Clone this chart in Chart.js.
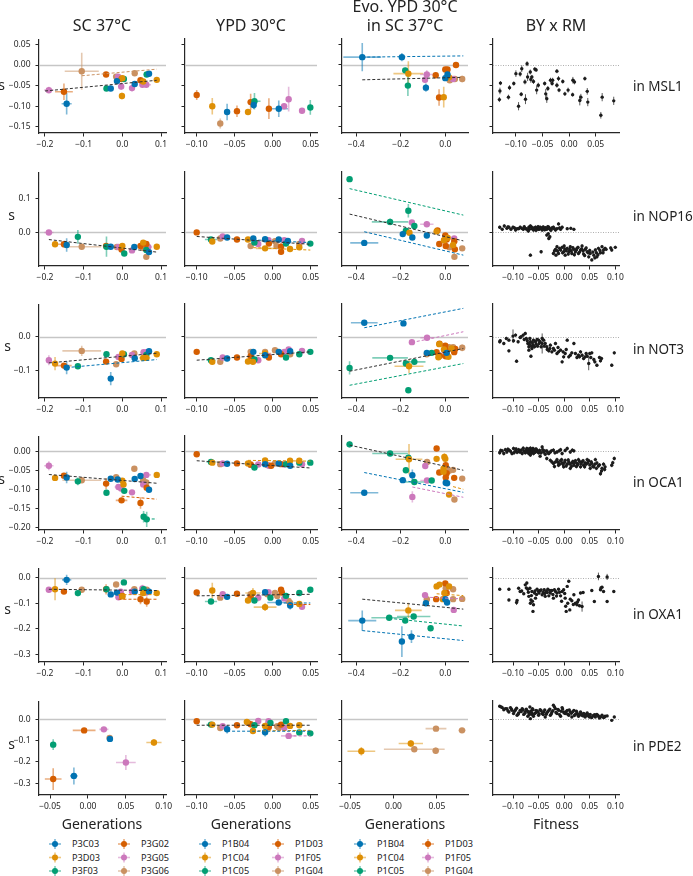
<!DOCTYPE html>
<html>
<head>
<meta charset="utf-8">
<script src="https://cdn.jsdelivr.net/npm/chart.js@4.4.0/dist/chart.umd.min.js"></script>
<style>
body { margin: 0; background: #fff; width: 693px; height: 876px; position: relative; overflow: hidden; font-family: 'Noto Sans', sans-serif; color: #222; }
canvas { position: absolute; }
.t { position: absolute; white-space: nowrap; line-height: 1; }
</style>
</head>
<body>
<svg id="leg" width="693" height="876" style="position:absolute;left:0;top:0"></svg>
<script>
// strains (legend order) and colours
const scStrains = ['P3C03', 'P3D03', 'P3F03', 'P3G02', 'P3G05', 'P3G06'];
const ypdStrains = ['P1B04', 'P1C04', 'P1C05', 'P1D03', 'P1F05', 'P1G04'];
const palette = ['#0173b2', '#de8f05', '#029e73', '#d55e00', '#cc78bc', '#ca9161'];

const columnTitles = ['SC 37°C', 'YPD 30°C', 'Evo. YPD 30°C\nin SC 37°C', 'BY x RM'];
const rowLabels = ['in MSL1', 'in NOP16', 'in NOT3', 'in OCA1', 'in OXA1', 'in PDE2'];
const xLabels = ['Generations', 'Generations', 'Generations', 'Fitness'];

// tick labels
const yTicks = [[0.05, 0, -0.05, -0.1, -0.15], [0.1, 0], [0, -0.1], [0, -0.05, -0.1, -0.15, -0.2], [0, -0.1, -0.2, -0.3], [0, -0.1, -0.2, -0.3]];
const xTicksSC = [-0.2, -0.1, 0, 0.1];
const xTicksSCpde = [-0.05, 0, 0.05, 0.1];
const xTicksYPD = [-0.1, -0.05, 0, 0.05];
const xTicksEvo = [-0.4, -0.2, 0];
const xTicksEvoPde = [-0.05, 0, 0.05];
const xTicksBYmsl = [-0.1, -0.05, 0, 0.05];
const xTicksBY = [-0.1, -0.05, 0, 0.05, 0.1];

// points: [strain, generations, s, xerr, yerr]; fits: [strain (-1 = all), x0, y0, x1, y1]
const mslSC = [[4,-0.190,-0.061,0.012,0.008],[3,-0.151,-0.065,0.023,0.020],[0,-0.144,-0.094,0.013,0.026],[5,-0.105,-0.015,0.044,0.045],[3,-0.042,-0.023,0.006,0.005],[5,-0.016,-0.028,0.006,0.005],[4,-0.011,-0.028,0.006,0.005],[1,0.000,-0.032,0.005,0.006],[2,0.004,-0.034,0.005,0.005],[3,-0.002,-0.034,0.005,0.006],[0,-0.014,-0.039,0.005,0.005],[2,-0.041,-0.057,0.006,0.006],[0,-0.030,-0.057,0.005,0.006],[4,-0.003,-0.052,0.005,0.008],[1,-0.001,-0.075,0.004,0.008],[0,0.032,-0.046,0.005,0.005],[5,0.032,-0.020,0.006,0.005],[4,0.025,-0.056,0.005,0.008],[3,0.047,-0.037,0.006,0.006],[1,0.054,-0.040,0.006,0.006],[4,0.052,-0.048,0.008,0.006],[4,0.062,-0.048,0.012,0.006],[2,0.063,-0.023,0.008,0.005],[0,0.069,-0.021,0.005,0.004],[1,0.089,-0.036,0.004,0.006]];
const mslSCfit = [[-1,-0.200,-0.063,0.089,-0.037],[5,-0.105,-0.026,0.089,-0.010]];
const mslYPD = [[3,-0.100,-0.073,0.002,0.012],[1,-0.0795,-0.100,0.002,0.020],[5,-0.069,-0.142,0.002,0.012],[0,-0.060,-0.114,0.002,0.020],[3,-0.047,-0.112,0.004,0.014],[1,-0.0325,-0.114,0.004,0.006],[3,-0.029,-0.090,0.004,0.020],[2,-0.024,-0.088,0.008,0.020],[0,-0.025,-0.097,0.002,0.010],[3,-0.005,-0.106,0.004,0.025],[0,0.008,-0.106,0.012,0.020],[4,0.015,-0.100,0.002,0.006],[4,0.021,-0.083,0.002,0.030],[4,0.0386,-0.111,0.002,0.006],[2,0.0495,-0.103,0.002,0.018]];
const mslYPDfit = [];
const mslEvo = [[0,-0.373,0.019,0.085,0.034],[0,-0.195,0.019,0.006,0.010],[2,-0.180,-0.013,0.004,0.006],[1,-0.166,-0.021,0.067,0.030],[2,-0.168,-0.050,0.004,0.025],[4,-0.083,-0.023,0.030,0.010],[4,-0.091,-0.036,0.004,0.008],[0,-0.087,-0.055,0.004,0.010],[3,-0.043,-0.025,0.008,0.006],[3,-0.028,-0.079,0.004,0.020],[1,-0.007,-0.078,0.004,0.025],[3,0.000,-0.011,0.008,0.006],[3,0.010,-0.011,0.006,0.006],[0,0.010,-0.023,0.004,0.006],[0,0.000,-0.032,0.004,0.006],[1,0.017,-0.030,0.006,0.006],[5,0.020,-0.037,0.012,0.006],[4,0.035,-0.034,0.006,0.006],[5,0.043,-0.034,0.008,0.006],[3,0.048,0.000,0.004,0.004],[5,0.076,-0.034,0.006,0.008]];
const mslEvoFit = [[-1,-0.373,-0.036,0.076,-0.030],[0,-0.373,0.019,0.081,0.022]];
const mslBY = [[-0.131,-0.084,0.006],[-0.130,-0.063,0.008],[-0.129,-0.044,0.005],[-0.114,-0.078,0.006],[-0.112,-0.055,0.006],[-0.104,-0.045,0.005],[-0.100,-0.021,0.008],[-0.095,-0.100,0.010],[-0.092,-0.022,0.006],[-0.089,-0.009,0.008],[-0.090,-0.071,0.005],[-0.083,-0.041,0.006],[-0.082,-0.083,0.012],[-0.079,0.003,0.006],[-0.078,-0.029,0.010],[-0.073,-0.017,0.006],[-0.072,-0.035,0.008],[-0.070,-0.029,0.005],[-0.067,-0.040,0.006],[-0.0645,-0.010,0.005],[-0.062,-0.012,0.005],[-0.061,-0.061,0.010],[-0.058,-0.049,0.006],[-0.046,-0.045,0.005],[-0.044,-0.070,0.012],[-0.042,-0.082,0.010],[-0.040,-0.057,0.006],[-0.035,-0.037,0.006],[-0.032,-0.045,0.005],[-0.031,-0.037,0.006],[-0.023,-0.015,0.005],[-0.023,-0.049,0.006],[-0.020,-0.033,0.006],[-0.019,-0.061,0.005],[-0.012,-0.040,0.005],[-0.008,-0.070,0.005],[-0.002,-0.061,0.006],[0.0065,-0.072,0.005],[0.007,-0.037,0.008],[0.010,-0.041,0.006],[0.020,-0.086,0.012],[0.022,-0.078,0.008],[0.0295,-0.033,0.005],[0.034,-0.064,0.008],[0.035,-0.090,0.010],[0.0595,-0.122,0.008],[0.062,-0.078,0.010],[0.0837,-0.087,0.010]];

const nopSC = [[4,-0.190,0.000,0.012,0.004],[1,-0.174,-0.035,0.006,0.006],[3,-0.151,-0.035,0.015,0.006],[0,-0.144,-0.037,0.008,0.020],[2,-0.115,-0.013,0.004,0.020],[5,-0.105,-0.042,0.050,0.006],[3,-0.042,-0.040,0.006,0.006],[2,-0.041,-0.042,0.004,0.030],[0,-0.030,-0.042,0.006,0.005],[5,-0.014,-0.043,0.006,0.005],[4,-0.010,-0.043,0.006,0.005],[1,0.000,-0.040,0.005,0.006],[3,-0.002,-0.050,0.005,0.006],[2,0.005,-0.062,0.004,0.006],[0,0.031,-0.043,0.005,0.005],[4,0.025,-0.053,0.005,0.006],[3,0.047,-0.040,0.008,0.006],[1,0.054,-0.030,0.006,0.006],[5,0.054,-0.046,0.008,0.006],[3,0.062,-0.034,0.008,0.006],[2,0.062,-0.052,0.006,0.006],[4,0.067,-0.043,0.010,0.006],[0,0.069,-0.058,0.005,0.006],[5,0.062,-0.072,0.006,0.006],[1,0.089,-0.042,0.004,0.005]];
const nopSCfit = [[-1,-0.190,-0.021,0.089,-0.058]];
const nopYPD = [[3,-0.100,0.000,0.002,0.004],[2,-0.0812,-0.021,0.008,0.004],[1,-0.0795,-0.027,0.002,0.004],[4,-0.0658,-0.012,0.002,0.004],[5,-0.069,-0.018,0.002,0.004],[0,-0.060,-0.015,0.002,0.004],[3,-0.047,-0.021,0.003,0.004],[1,-0.0325,-0.021,0.004,0.004],[0,-0.0255,-0.018,0.002,0.004],[2,-0.024,-0.030,0.004,0.004],[5,-0.029,-0.040,0.003,0.004],[4,-0.019,-0.034,0.003,0.004],[0,-0.010,-0.020,0.003,0.004],[1,-0.010,-0.047,0.012,0.004],[4,-0.0055,-0.023,0.003,0.004],[3,-0.005,-0.033,0.003,0.004],[5,0.003,-0.026,0.003,0.004],[5,0.005,-0.040,0.003,0.004],[0,0.008,-0.021,0.006,0.004],[3,0.011,-0.042,0.003,0.010],[3,0.011,-0.057,0.003,0.008],[4,0.0153,-0.023,0.003,0.004],[2,0.0175,-0.033,0.003,0.004],[1,0.0228,-0.049,0.004,0.008],[0,0.020,-0.025,0.003,0.004],[5,0.035,-0.034,0.003,0.004],[1,0.035,-0.044,0.003,0.004],[4,0.0386,-0.025,0.003,0.004],[2,0.0495,-0.033,0.002,0.004]];
const nopYPDfit = [[-1,-0.100,-0.012,0.0495,-0.035],[1,-0.0255,-0.045,0.0495,-0.052],[0,-0.0255,-0.022,0.0495,-0.030]];
const nopEvo = [[2,-0.430,0.157,0.004,0.008],[2,-0.166,0.064,0.004,0.020],[2,-0.248,0.031,0.082,0.010],[4,-0.150,0.029,0.006,0.006],[4,-0.083,0.024,0.030,0.008],[2,-0.139,0.019,0.004,0.006],[2,-0.177,0.005,0.004,0.005],[1,-0.161,-0.001,0.004,0.005],[0,-0.191,-0.005,0.004,0.005],[0,-0.148,-0.015,0.004,0.006],[0,-0.083,-0.009,0.004,0.006],[0,-0.364,-0.031,0.063,0.006],[1,-0.039,0.003,0.006,0.006],[3,-0.035,0.006,0.006,0.006],[1,-0.006,-0.023,0.006,0.006],[3,0.000,-0.009,0.006,0.006],[3,0.006,-0.021,0.006,0.006],[1,0.011,-0.016,0.006,0.006],[4,-0.004,-0.024,0.006,0.006],[4,0.040,-0.018,0.006,0.006],[3,-0.027,-0.034,0.006,0.006],[3,0.002,-0.040,0.006,0.006],[5,0.018,-0.044,0.010,0.006],[3,0.0405,-0.026,0.006,0.006],[3,0.043,-0.050,0.006,0.006],[5,0.041,-0.072,0.006,0.006],[5,0.076,-0.047,0.006,0.006],[1,0.035,-0.037,0.006,0.006]];
const nopEvoFit = [[2,-0.430,0.129,0.081,0.051],[-1,-0.430,0.054,0.081,-0.025],[0,-0.364,0.002,0.081,-0.067]];
const nopBY = [[-0.126,0.015],[-0.121,0.009],[-0.117,0.019],[-0.112,0.012],[-0.108,0.015],[-0.104,0.009],[-0.100,0.015],[-0.095,0.007],[-0.092,0.011],[-0.086,0.015],[-0.080,0.009],[-0.076,0.012],[-0.071,0.007],[-0.069,0.015],[-0.066,0.019],[-0.063,0.011],[-0.060,0.007],[-0.056,0.015],[-0.053,0.011],[-0.050,0.009],[-0.047,0.015],[-0.043,0.007],[-0.040,0.011],[-0.037,0.014],[-0.034,0.009],[-0.030,0.015],[-0.027,0.009],[-0.024,0.012],[-0.021,0.015],[-0.017,0.007],[-0.014,0.011],[-0.011,0.025],[-0.007,0.009],[-0.004,0.015],[0.006,0.011],[0.019,0.009],[-0.034,-0.008],[-0.030,-0.018],[-0.028,-0.013],
  [-0.083,0.012],[-0.078,0.017],[-0.074,0.010],[-0.068,0.009],[-0.064,0.016],[-0.058,0.012],[-0.055,0.006],[-0.051,0.017],[-0.048,0.010],[-0.045,0.013],[-0.041,0.016],[-0.038,0.008],[-0.035,0.012],[-0.032,0.017],[-0.029,0.011],[-0.026,0.006],[-0.023,0.014],[-0.019,0.011],[-0.009,0.013],[-0.070,0.004],[-0.061,0.013],[-0.097,0.013],[-0.089,0.011],[-0.110,0.016],[0.013,0.012],[-0.031,-0.004],
  [-0.066,-0.067],[-0.045,-0.057],[-0.021,-0.062],[-0.017,-0.050],[-0.014,-0.042],[-0.011,-0.062],[-0.007,-0.052],[-0.004,-0.044],[-0.001,-0.057],[0.000,-0.040],[0.002,-0.067],[0.006,-0.047],[0.009,-0.057],[0.012,-0.042],[0.015,-0.062],[0.019,-0.050],[0.022,-0.057],[0.025,-0.047],[0.028,-0.062],[0.032,-0.052],[0.035,-0.040],[0.038,-0.064],[0.041,-0.050],[0.045,-0.057],[0.048,-0.072],[0.051,-0.062],[0.054,-0.081],[0.058,-0.067],[0.061,-0.052],[0.064,-0.072],[0.067,-0.047],[0.071,-0.060],[0.074,-0.042],[0.077,-0.052],[0.080,-0.047],[0.093,-0.052],[0.100,-0.044],
  [-0.013,-0.055],[-0.009,-0.047],[-0.003,-0.060],[0.001,-0.049],[0.004,-0.054],[0.008,-0.064],[0.011,-0.050],[0.014,-0.055],[0.017,-0.045],[0.020,-0.066],[0.024,-0.052],[0.027,-0.044],[0.030,-0.058],[0.034,-0.049],[0.037,-0.055],[0.040,-0.068],[0.043,-0.046],[0.047,-0.060],[0.050,-0.053],[0.056,-0.058],[0.060,-0.075],[0.063,-0.060],[0.066,-0.066],[0.070,-0.053],[0.076,-0.060],[0.082,-0.050],[-0.019,-0.055],[-0.016,-0.067],[0.091,-0.046]];

const notSC = [[4,-0.190,-0.070,0.006,0.015],[1,-0.174,-0.080,0.006,0.020],[3,-0.151,-0.086,0.020,0.006],[0,-0.144,-0.092,0.006,0.020],[2,-0.115,-0.088,0.006,0.006],[5,-0.105,-0.042,0.050,0.015],[2,-0.041,-0.052,0.004,0.005],[3,-0.042,-0.074,0.008,0.006],[0,-0.030,-0.125,0.004,0.020],[5,-0.016,-0.082,0.005,0.006],[4,-0.010,-0.060,0.008,0.006],[3,-0.002,-0.066,0.005,0.006],[1,0.000,-0.050,0.005,0.006],[2,0.004,-0.052,0.004,0.005],[4,0.025,-0.054,0.005,0.006],[5,0.031,-0.050,0.005,0.005],[0,0.032,-0.064,0.005,0.005],[1,0.054,-0.063,0.010,0.005],[4,0.055,-0.046,0.008,0.005],[4,0.062,-0.046,0.008,0.005],[2,0.062,-0.054,0.005,0.005],[0,0.069,-0.043,0.005,0.005],[1,0.062,-0.063,0.010,0.005],[1,0.089,-0.052,0.004,0.005]];
const notSCfit = [[-1,-0.190,-0.078,0.089,-0.049],[0,-0.144,-0.092,0.089,-0.068]];
const notYPD = [[3,-0.100,-0.045,0.002,0.004],[2,-0.0812,-0.070,0.006,0.004],[1,-0.0795,-0.075,0.002,0.004],[4,-0.0658,-0.062,0.002,0.004],[5,-0.069,-0.075,0.002,0.004],[0,-0.060,-0.065,0.002,0.008],[3,-0.047,-0.062,0.003,0.004],[1,-0.0325,-0.074,0.004,0.004],[5,-0.029,-0.045,0.003,0.004],[3,-0.029,-0.058,0.003,0.004],[0,-0.0255,-0.045,0.003,0.004],[2,-0.024,-0.068,0.003,0.006],[1,-0.026,-0.075,0.003,0.004],[4,-0.019,-0.070,0.003,0.004],[5,-0.010,-0.045,0.003,0.004],[1,-0.010,-0.050,0.008,0.004],[0,-0.010,-0.055,0.003,0.004],[4,-0.0055,-0.058,0.003,0.004],[3,-0.005,-0.062,0.003,0.004],[5,0.003,-0.040,0.003,0.004],[0,0.008,-0.045,0.003,0.004],[3,0.011,-0.052,0.003,0.004],[4,0.0153,-0.045,0.003,0.004],[2,0.0175,-0.062,0.003,0.004],[4,0.021,-0.038,0.003,0.004],[0,0.023,-0.043,0.003,0.004],[5,0.023,-0.052,0.003,0.004],[2,0.035,-0.052,0.003,0.004],[4,0.0386,-0.042,0.003,0.004],[2,0.0495,-0.045,0.002,0.004]];
const notYPDfit = [[-1,-0.100,-0.070,0.0495,-0.045]];
const notEvo = [[0,-0.364,0.042,0.060,0.006],[0,-0.188,0.040,0.004,0.005],[4,-0.150,-0.016,0.004,0.006],[4,-0.082,-0.003,0.030,0.008],[2,-0.248,-0.063,0.080,0.006],[2,-0.430,-0.093,0.004,0.020],[2,-0.177,-0.080,0.004,0.006],[2,-0.139,-0.075,0.050,0.008],[2,-0.061,-0.048,0.004,0.005],[2,-0.166,-0.160,0.004,0.008],[1,-0.163,-0.088,0.065,0.020],[0,-0.083,-0.048,0.004,0.005],[5,-0.083,-0.052,0.004,0.005],[3,-0.039,-0.046,0.006,0.006],[1,-0.027,-0.022,0.006,0.006],[3,-0.026,-0.021,0.006,0.006],[3,0.000,-0.027,0.006,0.006],[1,-0.006,-0.038,0.006,0.006],[4,-0.004,-0.042,0.006,0.006],[3,0.002,-0.040,0.006,0.006],[3,0.006,-0.050,0.006,0.006],[3,-0.024,-0.057,0.006,0.006],[1,-0.031,-0.061,0.006,0.006],[3,0.002,-0.058,0.006,0.006],[1,0.014,-0.060,0.008,0.006],[5,0.017,-0.031,0.006,0.006],[5,0.035,-0.031,0.006,0.006],[0,0.006,-0.048,0.004,0.005],[3,0.040,-0.046,0.006,0.006],[3,0.045,-0.036,0.006,0.006],[5,0.076,-0.033,0.006,0.010],[1,0.028,-0.035,0.006,0.006]];
const notEvoFit = [[0,-0.364,0.027,0.081,0.085],[4,-0.150,-0.017,0.081,0.015],[-1,-0.430,-0.103,0.081,-0.035],[2,-0.430,-0.145,0.081,-0.080]];
const notBY = [[-0.126,-0.015],[-0.125,-0.012],[-0.108,-0.042],[-0.108,-0.010],[-0.100,0.002,0.020],[-0.099,-0.012],[-0.093,-0.073],[-0.095,0.005],[-0.086,-0.002],[-0.080,0.005],[-0.076,0.010],[-0.074,-0.005],[-0.071,-0.020],[-0.069,-0.030],[-0.069,-0.040],[-0.066,-0.015],[-0.065,-0.058],[-0.063,-0.035],[-0.061,-0.025],[-0.060,-0.010],[-0.056,-0.015],[-0.053,-0.008],[-0.050,-0.010],[-0.047,-0.015],[-0.043,-0.020,0.030],[-0.043,-0.005],[-0.040,-0.010],[-0.037,-0.020],[-0.034,-0.030],[-0.030,-0.042],[-0.027,-0.025],[-0.024,-0.045],[-0.021,-0.035],[-0.017,-0.020],[-0.014,-0.050],[-0.011,-0.045],[-0.007,-0.040],[-0.004,-0.075],[-0.001,-0.060],[0.002,-0.050],[0.006,-0.010],[0.009,-0.060],[0.012,-0.055],[0.019,-0.020],[0.022,-0.050],[0.025,-0.062],[0.028,-0.055],[0.032,-0.045],[0.035,-0.055],[0.038,-0.065],[0.041,-0.060],[0.045,-0.058],[0.048,-0.080,0.020],[0.050,-0.050],[0.054,-0.048],[0.058,-0.068],[0.064,-0.085],[0.071,-0.072],[0.073,-0.065],[0.093,-0.085],[0.098,-0.048],
  [-0.118,-0.020],[-0.113,-0.005],[-0.090,-0.015],[-0.084,0.000],[-0.078,-0.008],[-0.072,-0.012],[-0.068,-0.022],[-0.067,-0.005],[-0.064,-0.028],[-0.062,-0.018],[-0.058,-0.030],[-0.055,-0.022],[-0.052,-0.028],[-0.049,-0.020],[-0.045,-0.030],[-0.039,-0.028],[-0.033,-0.038],[-0.028,-0.035],[-0.019,-0.040],[-0.012,-0.032],[-0.002,-0.045],[0.004,-0.038],[0.015,-0.048],[0.030,-0.060],[0.043,-0.050],[0.052,-0.062],[0.060,-0.075],[0.069,-0.062]];

const ocaSC = [[4,-0.190,-0.038,0.012,0.012],[1,-0.174,-0.070,0.005,0.006],[3,-0.151,-0.064,0.006,0.005],[0,-0.144,-0.069,0.006,0.015],[2,-0.115,-0.079,0.006,0.010],[5,-0.105,-0.076,0.050,0.006],[3,-0.042,-0.085,0.008,0.015],[2,-0.041,-0.109,0.004,0.006],[0,-0.030,-0.072,0.005,0.006],[5,-0.016,-0.068,0.005,0.006],[0,-0.012,-0.074,0.005,0.006],[4,-0.010,-0.094,0.010,0.006],[4,-0.003,-0.098,0.005,0.006],[1,0.000,-0.077,0.005,0.006],[1,0.003,-0.087,0.005,0.008],[2,0.005,-0.104,0.005,0.006],[3,-0.002,-0.129,0.015,0.006],[4,0.025,-0.108,0.005,0.006],[5,0.031,-0.046,0.005,0.006],[0,0.032,-0.073,0.005,0.006],[3,0.047,-0.136,0.005,0.015],[0,0.047,-0.065,0.005,0.006],[4,0.054,-0.087,0.005,0.008],[5,0.054,-0.076,0.005,0.008],[4,0.062,-0.062,0.012,0.006],[5,0.062,-0.082,0.005,0.008],[3,0.063,-0.096,0.005,0.006],[0,0.069,-0.101,0.005,0.006],[1,0.089,-0.062,0.005,0.006],[2,0.055,-0.172,0.005,0.015],[2,0.063,-0.179,0.005,0.020]];
const ocaSCfit = [[-1,-0.190,-0.061,0.089,-0.084],[3,-0.002,-0.118,0.089,-0.126],[2,0.063,-0.178,0.089,-0.178]];
const ocaYPD = [[3,-0.100,-0.008,0.002,0.004],[2,-0.0812,-0.028,0.006,0.004],[1,-0.0795,-0.030,0.002,0.004],[4,-0.0658,-0.032,0.002,0.004],[5,-0.069,-0.034,0.002,0.004],[0,-0.060,-0.033,0.002,0.004],[3,-0.047,-0.032,0.003,0.004],[1,-0.0325,-0.032,0.004,0.004],[5,-0.029,-0.036,0.003,0.004],[3,-0.029,-0.035,0.003,0.004],[2,-0.024,-0.043,0.004,0.004],[4,-0.019,-0.035,0.003,0.004],[1,-0.010,-0.024,0.003,0.004],[0,-0.010,-0.034,0.003,0.004],[5,-0.007,-0.036,0.003,0.004],[4,-0.005,-0.038,0.003,0.004],[3,-0.002,-0.038,0.003,0.004],[5,0.003,-0.032,0.003,0.004],[0,0.008,-0.032,0.003,0.004],[3,0.011,-0.034,0.003,0.004],[4,0.0153,-0.035,0.003,0.004],[2,0.0175,-0.034,0.003,0.004],[1,0.0228,-0.025,0.003,0.004],[0,0.023,-0.038,0.003,0.004],[1,0.035,-0.025,0.003,0.004],[2,0.035,-0.030,0.003,0.004],[4,0.0386,-0.034,0.003,0.004],[2,0.0495,-0.030,0.002,0.004]];
const ocaYPDfit = [[-1,-0.100,-0.025,0.0495,-0.044],[1,-0.0325,-0.024,0.0495,-0.026]];
const ocaEvo = [[2,-0.430,0.018,0.004,0.008],[2,-0.248,-0.006,0.080,0.005],[2,-0.166,-0.017,0.004,0.006],[1,-0.163,-0.021,0.060,0.040],[3,-0.039,0.007,0.006,0.006],[1,-0.039,-0.020,0.006,0.006],[1,-0.004,-0.015,0.004,0.010],[1,0.000,-0.020,0.004,0.006],[5,-0.082,-0.028,0.004,0.006],[4,-0.090,-0.039,0.004,0.006],[2,-0.177,-0.050,0.004,0.006],[3,0.002,-0.037,0.006,0.006],[1,-0.008,-0.046,0.006,0.006],[3,-0.027,-0.056,0.006,0.006],[1,-0.008,-0.054,0.006,0.006],[5,0.017,-0.051,0.006,0.006],[3,0.006,-0.058,0.006,0.006],[5,0.035,-0.049,0.006,0.006],[3,0.002,-0.069,0.006,0.006],[3,0.040,-0.070,0.006,0.006],[5,0.076,-0.072,0.006,0.006],[0,-0.148,-0.063,0.004,0.015],[0,-0.191,-0.076,0.004,0.006],[2,-0.139,-0.081,0.050,0.008],[4,-0.082,-0.077,0.030,0.006],[2,-0.061,-0.077,0.004,0.006],[0,0.002,-0.083,0.004,0.006],[0,0.008,-0.084,0.004,0.006],[0,-0.364,-0.109,0.063,0.006],[4,-0.148,-0.120,0.004,0.015],[1,0.017,-0.114,0.004,0.006],[5,0.041,-0.127,0.004,0.006]];
const ocaEvoFit = [[-1,-0.430,0.016,0.081,-0.050],[0,-0.364,-0.056,0.081,-0.108],[4,-0.148,-0.094,0.081,-0.121],[1,0.035,-0.093,0.081,-0.100]];
const ocaBY = [[-0.126,-0.004],[-0.121,0.001],[-0.118,-0.006],[-0.115,0.004],[-0.112,-0.002],[-0.108,0.003],[-0.105,0.000],[-0.102,-0.006],[-0.099,0.007],[-0.095,0.001],[-0.092,-0.003],[-0.089,0.004],[-0.086,-0.002],[-0.082,-0.006],[-0.079,0.001],[-0.076,-0.004],[-0.073,0.007],[-0.071,0.001],[-0.069,-0.006],[-0.067,0.004],[-0.066,-0.010],[-0.065,-0.002],[-0.063,0.001],[-0.061,0.007],[-0.060,-0.006],[-0.056,-0.002],[-0.053,0.003],[-0.050,-0.004],[-0.047,-0.013],[-0.043,0.011],[-0.040,-0.002],[-0.037,-0.008],[-0.034,0.001],[-0.030,-0.006],[-0.027,-0.002],[-0.021,0.003],[-0.014,-0.002],[-0.007,0.004],[-0.004,-0.006],[0.006,0.007],[0.019,0.001],
  [-0.124,0.002],[-0.110,0.005],[-0.098,-0.004],[-0.094,0.006],[-0.088,-0.001],[-0.084,0.003],[-0.080,0.008],[-0.077,-0.001],[-0.074,0.003],[-0.072,-0.003],[-0.070,0.005],[-0.068,-0.001],[-0.066,0.008],[-0.064,-0.004],[-0.062,0.002],[-0.059,0.004],[-0.058,-0.003],[-0.055,0.006],[-0.052,-0.001],[-0.048,0.002],[-0.045,-0.004],[-0.042,0.004],[-0.038,0.001],[-0.032,-0.004],[-0.025,0.001],[-0.018,-0.004],[-0.010,0.001],[0.002,0.002],[0.012,-0.002],[0.016,0.003],
  [-0.034,-0.019],[-0.027,-0.024],[-0.021,-0.032],[-0.017,-0.028],[-0.014,-0.022],[-0.011,-0.037],[-0.007,-0.025],[-0.004,-0.031],[-0.001,-0.041],[0.002,-0.024],[0.006,-0.034],[0.009,-0.028],[0.012,-0.045],[0.015,-0.031],[0.019,-0.037],[0.022,-0.025],[0.025,-0.032],[0.028,-0.022],[0.032,-0.041],[0.035,-0.028],[0.038,-0.037],[0.041,-0.031],[0.045,-0.022],[0.048,-0.025],[0.051,-0.045],[0.054,-0.032],[0.058,-0.041],[0.061,-0.022],[0.064,-0.031],[0.067,-0.039],[0.071,-0.059],[0.074,-0.045],[0.077,-0.034],[0.080,-0.041],[0.093,-0.037],[0.098,-0.019],
  [-0.024,-0.028],[-0.019,-0.040],[-0.012,-0.029],[-0.009,-0.034],[-0.005,-0.022],[-0.002,-0.035],[0.001,-0.029],[0.004,-0.039],[0.008,-0.023],[0.011,-0.033],[0.014,-0.040],[0.017,-0.027],[0.020,-0.030],[0.024,-0.040],[0.027,-0.035],[0.030,-0.027],[0.033,-0.033],[0.037,-0.025],[0.040,-0.041],[0.043,-0.034],[0.046,-0.030],[0.050,-0.036],[0.053,-0.028],[0.056,-0.040],[0.060,-0.034],[0.063,-0.045],[0.069,-0.036],[0.073,-0.052],[0.079,-0.048],[0.095,-0.030]];

const oxaSC = [[4,-0.190,-0.047,0.008,0.005],[1,-0.174,-0.045,0.005,0.043],[3,-0.151,-0.054,0.008,0.006],[0,-0.144,-0.008,0.012,0.020],[2,-0.115,-0.060,0.005,0.012],[5,-0.105,-0.047,0.008,0.006],[3,-0.042,-0.045,0.006,0.020],[2,-0.041,-0.045,0.005,0.006],[0,-0.030,-0.065,0.004,0.006],[5,-0.016,-0.026,0.005,0.008],[0,-0.014,-0.058,0.004,0.008],[2,0.004,-0.018,0.004,0.010],[3,0.000,-0.071,0.005,0.010],[4,-0.004,-0.054,0.005,0.006],[4,-0.010,-0.076,0.008,0.006],[1,0.000,-0.073,0.005,0.006],[5,0.031,-0.045,0.005,0.006],[4,0.025,-0.054,0.005,0.006],[0,0.032,-0.054,0.005,0.006],[2,0.055,-0.045,0.005,0.006],[4,0.052,-0.042,0.008,0.015],[3,0.047,-0.084,0.005,0.020],[0,0.069,-0.054,0.005,0.006],[4,0.062,-0.058,0.008,0.006],[3,0.063,-0.093,0.005,0.020],[5,0.063,-0.047,0.005,0.006],[1,0.089,-0.060,0.005,0.008],[1,0.054,-0.060,0.005,0.008]];
const oxaSCfit = [[-1,-0.190,-0.045,0.089,-0.050],[1,-0.010,-0.066,0.089,-0.066],[3,-0.010,-0.084,0.089,-0.084]];
const oxaYPD = [[3,-0.100,-0.058,0.002,0.006],[1,-0.0795,-0.050,0.002,0.030],[2,-0.0812,-0.093,0.008,0.006],[4,-0.0658,-0.065,0.002,0.006],[5,-0.069,-0.078,0.002,0.006],[0,-0.060,-0.075,0.002,0.006],[3,-0.047,-0.063,0.003,0.006],[1,-0.0325,-0.089,0.003,0.006],[1,-0.026,-0.060,0.010,0.020],[5,-0.029,-0.065,0.003,0.006],[3,-0.029,-0.075,0.003,0.006],[2,-0.024,-0.089,0.006,0.006],[4,-0.019,-0.078,0.003,0.006],[1,-0.010,-0.115,0.015,0.015],[0,-0.010,-0.057,0.003,0.006],[5,-0.007,-0.065,0.003,0.006],[4,-0.0055,-0.057,0.003,0.006],[2,-0.003,-0.078,0.003,0.006],[5,0.003,-0.060,0.003,0.006],[5,0.006,-0.072,0.003,0.006],[0,0.008,-0.097,0.015,0.006],[3,0.011,-0.047,0.003,0.010],[3,0.012,-0.058,0.003,0.006],[4,0.0153,-0.081,0.003,0.006],[2,0.0175,-0.071,0.003,0.006],[5,0.021,-0.091,0.003,0.006],[5,0.023,-0.099,0.003,0.006],[0,0.023,-0.109,0.003,0.015],[2,0.035,-0.060,0.003,0.006],[1,0.035,-0.103,0.003,0.006],[4,0.0386,-0.114,0.003,0.008],[2,0.0495,-0.047,0.002,0.006]];
const oxaYPDfit = [[-1,-0.100,-0.071,0.0495,-0.065],[0,0.008,-0.099,0.0495,-0.099],[3,0.021,-0.105,0.0495,-0.105]];
const oxaEvo = [[1,-0.039,-0.034,0.006,0.006],[1,-0.026,-0.027,0.006,0.006],[3,0.000,-0.022,0.006,0.008],[1,0.017,-0.034,0.006,0.006],[5,0.002,-0.041,0.006,0.006],[5,0.035,-0.045,0.006,0.006],[3,0.006,-0.060,0.006,0.006],[1,-0.004,-0.060,0.006,0.006],[4,-0.091,-0.068,0.004,0.006],[5,-0.083,-0.084,0.004,0.006],[3,-0.041,-0.084,0.004,0.006],[1,-0.011,-0.084,0.004,0.006],[5,0.035,-0.084,0.004,0.006],[5,0.076,-0.083,0.004,0.006],[0,-0.087,-0.100,0.004,0.006],[0,0.000,-0.084,0.004,0.006],[0,0.008,-0.097,0.004,0.006],[4,0.038,-0.126,0.004,0.010],[1,-0.166,-0.128,0.060,0.030],[2,-0.252,-0.157,0.080,0.008],[2,-0.180,-0.168,0.004,0.006],[2,-0.142,-0.152,0.075,0.006],[0,-0.373,-0.168,0.063,0.040],[2,-0.066,-0.198,0.004,0.006],[0,-0.195,-0.250,0.004,0.060],[0,-0.152,-0.231,0.004,0.025]];
const oxaEvoFit = [[-1,-0.373,-0.084,0.081,-0.123],[2,-0.252,-0.159,0.081,-0.189],[0,-0.373,-0.207,0.081,-0.246],[1,-0.039,-0.063,0.081,-0.070],[4,-0.091,-0.076,0.081,-0.083]];
const oxaBY = [[-0.126,-0.045],[-0.108,-0.045],[-0.108,-0.087],[-0.093,-0.097,0.010],[-0.092,-0.089],[-0.089,-0.041],[-0.086,-0.054],[-0.076,-0.028],[-0.073,-0.021],[-0.071,-0.045],[-0.069,-0.073],[-0.067,-0.041],[-0.066,-0.100],[-0.065,-0.087],[-0.063,-0.054],[-0.061,-0.132],[-0.060,-0.106],[-0.058,-0.060],[-0.056,-0.080],[-0.053,-0.045],[-0.050,-0.054],[-0.047,-0.050],[-0.043,-0.067],[-0.041,-0.058],[-0.039,-0.047],[-0.037,-0.073],[-0.035,-0.054],[-0.032,-0.045],[-0.030,-0.071],[-0.027,-0.060],[-0.024,-0.050],[-0.021,-0.080],[-0.017,-0.054],[-0.014,-0.060],[-0.011,-0.045],[-0.007,-0.071],[-0.004,-0.054],[-0.001,-0.047],[0.002,-0.080],[0.004,-0.132],[0.006,-0.034],[0.007,-0.100],[0.009,-0.014],[0.011,-0.126],[0.012,-0.084],[0.019,-0.067],[0.022,-0.100],[0.025,-0.106],[0.028,-0.087],[0.032,-0.060],[0.035,-0.113,0.020],[0.037,-0.058],[0.054,-0.050],[0.059,-0.093],[0.067,0.005,0.015],[0.071,-0.047],[0.074,-0.037],[0.077,-0.054],[0.084,0.003,0.012],[0.084,-0.093],[0.097,-0.054],
  [-0.083,-0.052],[-0.079,-0.063],[-0.074,-0.040],[-0.070,-0.057],[-0.064,-0.070],[-0.062,-0.092],[-0.057,-0.052],[-0.054,-0.066],[-0.049,-0.060],[-0.045,-0.048],[-0.038,-0.062],[-0.033,-0.058],[-0.028,-0.050],[-0.022,-0.066],[-0.019,-0.047],[-0.015,-0.072],[-0.009,-0.057],[-0.005,-0.092],[0.001,-0.062],[0.003,-0.112],[0.015,-0.090],[0.018,-0.105],[0.026,-0.095],[0.030,-0.110],[0.072,-0.040]];

const pdeSC = [[3,-0.0458,-0.281,0.011,0.051],[2,-0.0458,-0.119,0.004,0.025],[0,-0.0185,-0.266,0.005,0.040],[3,-0.005,-0.052,0.015,0.006],[4,0.021,-0.047,0.006,0.006],[5,0.0286,-0.088,0.004,0.010],[0,0.029,-0.092,0.003,0.015],[4,0.050,-0.203,0.013,0.035],[1,0.087,-0.109,0.010,0.015]];
const pdeSCfit = [];
const pdeYPD = [[3,-0.100,-0.009,0.002,0.006],[2,-0.0812,-0.025,0.006,0.006],[1,-0.0795,-0.025,0.003,0.006],[4,-0.0658,-0.033,0.002,0.006],[5,-0.069,-0.041,0.002,0.006],[0,-0.060,-0.047,0.002,0.020],[3,-0.047,-0.028,0.003,0.006],[1,-0.034,-0.012,0.003,0.006],[5,-0.0325,-0.017,0.003,0.006],[3,-0.029,-0.023,0.003,0.006],[1,-0.026,-0.055,0.003,0.006],[2,-0.024,-0.028,0.003,0.010],[4,-0.019,-0.008,0.003,0.006],[4,-0.0055,-0.009,0.003,0.006],[1,-0.010,-0.031,0.003,0.006],[3,-0.005,-0.036,0.003,0.006],[0,-0.010,-0.061,0.003,0.020],[5,-0.007,-0.028,0.003,0.006],[5,0.006,-0.033,0.003,0.006],[3,0.011,-0.025,0.003,0.010],[1,0.0228,-0.031,0.003,0.006],[2,-0.003,-0.017,0.003,0.006],[2,0.0175,-0.009,0.003,0.006],[4,0.021,-0.078,0.010,0.006],[4,0.0153,-0.041,0.003,0.006],[5,0.008,-0.039,0.003,0.006],[1,0.035,-0.028,0.003,0.010],[2,0.035,-0.062,0.003,0.006],[2,0.0495,-0.066,0.002,0.008]];
const pdeYPDfit = [[-1,-0.100,-0.028,0.0495,-0.028],[0,-0.060,-0.056,0.0495,-0.056],[4,0.021,-0.078,0.0495,-0.078],[1,-0.026,-0.055,0.0495,-0.052]];
const pdeEvo = [[1,-0.037,-0.150,0.016,0.020],[1,0.020,-0.114,0.014,0.015],[5,0.024,-0.141,0.035,0.012],[5,0.0487,-0.148,0.004,0.015],[5,0.049,-0.044,0.012,0.006],[5,0.079,-0.052,0.004,0.010]];
const pdeEvoFit = [];
const pdeBY = [[-0.126,0.061],[-0.121,0.055],[-0.118,0.045],[-0.112,0.050],[-0.108,0.034],[-0.105,0.055],[-0.102,0.042],[-0.099,0.027],[-0.095,0.045],[-0.092,0.019],[-0.089,0.030],[-0.086,0.042],[-0.082,0.050],[-0.079,0.023],[-0.076,0.034],[-0.073,0.042],[-0.071,0.014],[-0.069,0.030],[-0.067,0.058],[-0.066,0.003],[-0.065,0.039],[-0.063,0.023],[-0.061,0.045],[-0.060,0.014],[-0.056,0.030],[-0.053,0.039],[-0.050,0.019],[-0.047,0.045],[-0.043,0.027],[-0.040,0.034],[-0.037,0.011],[-0.034,0.030],[-0.030,0.042],[-0.027,0.019],[-0.024,0.034],[-0.021,0.066],[-0.017,0.050],[-0.014,0.027],[-0.011,0.042],[-0.007,0.014],[-0.004,0.055],[-0.001,0.034],[0.002,0.027],[0.006,0.042],[0.009,0.019],[0.012,0.034],[0.015,0.011],[0.019,0.042],[0.022,0.023],[0.025,0.030],[0.028,0.014],[0.032,0.034],[0.035,0.019],[0.038,0.027],[0.041,0.011],[0.045,0.030],[0.048,0.014],[0.051,0.023],[0.054,0.008],[0.058,0.019],[0.061,0.011],[0.064,0.023],[0.067,0.014],[0.071,0.011],[0.074,0.019],[0.077,0.008],[0.080,0.014],[0.093,-0.005],[0.098,0.011],
  [-0.123,0.058],[-0.115,0.050],[-0.110,0.040],[-0.103,0.048],[-0.097,0.038],[-0.093,0.052],[-0.090,0.024],[-0.084,0.036],[-0.080,0.044],[-0.077,0.028],[-0.074,0.048],[-0.070,0.036],[-0.068,0.022],[-0.064,0.032],[-0.062,0.050],[-0.058,0.026],[-0.055,0.042],[-0.051,0.034],[-0.049,0.025],[-0.045,0.040],[-0.041,0.022],[-0.038,0.044],[-0.035,0.024],[-0.032,0.036],[-0.028,0.048],[-0.025,0.026],[-0.022,0.040],[-0.019,0.058],[-0.016,0.032],[-0.012,0.046],[-0.009,0.022],[-0.006,0.038],[-0.003,0.048],[0.000,0.030],[0.004,0.036],[0.007,0.024],[0.010,0.044],[0.014,0.028],[0.017,0.036],[0.020,0.018],[0.024,0.038],[0.027,0.024],[0.030,0.020],[0.033,0.028],[0.037,0.016],[0.040,0.024],[0.043,0.018],[0.047,0.022],[0.050,0.010],[0.056,0.016],[0.060,0.021],[0.066,0.018],[0.069,0.006],[0.079,0.011],[0.084,0.016]];

// ---- layout ----
const colL = [39, 185, 342, 493], colR = [166, 317, 468, 619];
const rowT = [39, 172, 304, 436, 568, 701], rowB = [133, 266, 398, 530, 662, 795];
const yRange = [[-0.165, 0.063], [-0.099, 0.178], [-0.183, 0.098], [-0.207, 0.040], [-0.330, 0.038], [-0.356, 0.086]];
const yDec = [2, 1, 1, 2, 1, 1];

Chart.defaults.font.family = "'Noto Sans', sans-serif";

const errorBars = {
  id: 'errorBars',
  beforeDatasetsDraw(chart, args, opts) {
    const { ctx, chartArea: a, scales: { x, y } } = chart;
    ctx.save();
    ctx.beginPath();
    ctx.rect(a.left, a.top, a.width, a.height);
    ctx.clip();
    const y0 = Math.round(y.getPixelForValue(0)) + 0.5;
    ctx.strokeStyle = opts.zeroColor;
    ctx.lineWidth = opts.zeroWidth;
    ctx.setLineDash(opts.zeroDash);
    ctx.beginPath();
    ctx.moveTo(a.left, y0);
    ctx.lineTo(a.right, y0);
    ctx.stroke();
    ctx.setLineDash([]);
    chart.data.datasets.forEach(ds => {
      if (!ds.errColor) return;
      ctx.strokeStyle = ds.errColor;
      ctx.lineWidth = ds.errWidth;
      ds.data.forEach(p => {
        const px = x.getPixelForValue(p.x), py = y.getPixelForValue(p.y);
        ctx.beginPath();
        if (p.xe) { ctx.moveTo(x.getPixelForValue(p.x - p.xe), py); ctx.lineTo(x.getPixelForValue(p.x + p.xe), py); }
        if (p.ye) { ctx.moveTo(px, y.getPixelForValue(p.y - p.ye)); ctx.lineTo(px, y.getPixelForValue(p.y + p.ye)); }
        ctx.stroke();
      });
    });
    ctx.restore();
  }
};

function rgba(hex, a) {
  const n = parseInt(hex.slice(1), 16);
  return `rgba(${n >> 16},${(n >> 8) & 255},${n & 255},${a})`;
}

function fmt(v, d) {
  return v.toFixed(d).replace('-', '\u2212');
}

function axis(pos, range, ticks, dec, showLabels, size) {
  return {
    type: 'linear',
    position: pos === 'x' ? 'bottom' : 'left',
    min: range[0], max: range[1], bounds: 'data',
    border: { display: true, color: '#262626', width: 1.2 },
    grid: { drawOnChartArea: false, drawTicks: true, tickLength: 3.5, color: '#262626', lineWidth: 1 },
    ticks: {
      display: showLabels, autoSkip: false, maxRotation: 0, minRotation: 0,
      padding: pos === 'x' ? 3 : 5, color: '#262626', font: { size: 8.5 },
      callback: v => fmt(v, dec)
    },
    afterBuildTicks: a => { a.ticks = ticks.map(v => ({ value: v })); },
    afterFit: a => { if (pos === 'x') a.height = size; else a.width = size; }
  };
}

function panel(r, c, pts, fits, by, xr, xt, xd) {
  const padL = 40, padR = 16, padT = 10, padB = 22;
  const w = colR[c] - colL[c], h = rowB[r] - rowT[r];
  const cv = document.createElement('canvas');
  cv.width = w + padL + padR;
  cv.height = h + padT + padB;
  cv.style.left = (colL[c] - padL) + 'px';
  cv.style.top = (rowT[r] - padT) + 'px';
  cv.style.width = cv.width + 'px';
  cv.style.height = cv.height + 'px';
  document.body.appendChild(cv);

  const datasets = [];
  if (by) {
    datasets.push({
      data: pts.map(p => ({ x: p[0], y: p[1], ye: p[2] || 0.005 })),
      pointBackgroundColor: '#1c1c1c', pointRadius: 1.7, pointBorderWidth: 0,
      errColor: 'rgba(25,25,25,0.8)', errWidth: 0.9
    });
  } else {
    const names = c === 0 ? scStrains : ypdStrains;
    palette.forEach((col, s) => {
      const d = pts.filter(p => p[0] === s).map(p => ({ x: p[1], y: p[2], xe: p[3], ye: p[4] }));
      if (!d.length) return;
      datasets.push({
        label: names[s], data: d,
        pointBackgroundColor: col, pointRadius: 3.2, pointBorderWidth: 0,
        errColor: rgba(col, 0.5), errWidth: 1.6
      });
    });
  }
  fits.forEach(f => datasets.push({
    data: [{ x: f[1], y: f[2] }, { x: f[3], y: f[4] }],
    showLine: true, borderColor: f[0] < 0 ? '#303030' : palette[f[0]],
    borderWidth: 1, borderDash: [3, 2], pointRadius: 0, order: -1
  }));

  new Chart(cv, {
    type: 'scatter',
    data: { datasets },
    options: {
      responsive: false, animation: false, events: [],
      layout: { padding: { left: 0, right: padR, top: padT, bottom: 0 } },
      plugins: {
        legend: { display: false }, tooltip: { enabled: false },
        errorBars: by
          ? { zeroColor: '#9a9a9a', zeroWidth: 0.8, zeroDash: [1, 1.5] }
          : { zeroColor: '#c6c6c6', zeroWidth: 1.5, zeroDash: [] }
      },
      scales: {
        x: axis('x', xr, xt, xd, true, padB),
        y: axis('y', yRange[r], yTicks[r], yDec[r], c === 0, padL)
      }
    },
    plugins: [errorBars]
  });
}

const points = [
  [mslSC, mslYPD, mslEvo, mslBY],
  [nopSC, nopYPD, nopEvo, nopBY],
  [notSC, notYPD, notEvo, notBY],
  [ocaSC, ocaYPD, ocaEvo, ocaBY],
  [oxaSC, oxaYPD, oxaEvo, oxaBY],
  [pdeSC, pdeYPD, pdeEvo, pdeBY]
];
const fitLines = [
  [mslSCfit, mslYPDfit, mslEvoFit],
  [nopSCfit, nopYPDfit, nopEvoFit],
  [notSCfit, notYPDfit, notEvoFit],
  [ocaSCfit, ocaYPDfit, ocaEvoFit],
  [oxaSCfit, oxaYPDfit, oxaEvoFit],
  [pdeSCfit, pdeYPDfit, pdeEvoFit]
];

for (let r = 0; r < 6; r++) {
  const last = r === 5;
  panel(r, 0, points[r][0], fitLines[r][0], false,
    last ? [-0.0645, 0.1029] : [-0.2155, 0.1129], last ? xTicksSCpde : xTicksSC, last ? 2 : 1);
  panel(r, 1, points[r][1], fitLines[r][1], false, [-0.1154, 0.0583], xTicksYPD, 2);
  panel(r, 2, points[r][2], fitLines[r][2], false,
    last ? [-0.0593, 0.0859] : [-0.464, 0.102], last ? xTicksEvoPde : xTicksEvo, last ? 2 : 1);
  panel(r, 3, points[r][3], [], true,
    r === 0 ? [-0.143, 0.0936] : [-0.1391, 0.1072], r === 0 ? xTicksBYmsl : xTicksBY, 2);
}

// ---- text ----
function text(str, x, y, size, align) {
  const d = document.createElement('div');
  d.className = 't';
  d.textContent = str;
  d.style.fontSize = size + 'px';
  d.style.top = (y - 0.53 * size) + 'px';
  if (align === 'center') { d.style.left = (x - 150) + 'px'; d.style.width = '300px'; d.style.textAlign = 'center'; }
  else if (align === 'right') { d.style.left = (x - 60) + 'px'; d.style.width = '60px'; d.style.textAlign = 'right'; }
  else d.style.left = x + 'px';
  document.body.appendChild(d);
}

const titleX = [102, 251, 405, 556];
columnTitles.forEach((t, i) => {
  const lines = t.split('\n');
  if (lines.length === 1) text(t, titleX[i], 25.5, 16, 'center');
  else { text(lines[0], titleX[i], 6, 16, 'center'); text(lines[1], titleX[i], 25.5, 16, 'center'); }
});
const rowLabelY = [86.7, 217.3, 350, 483.3, 615, 746.7];
rowLabels.forEach((t, i) => text(t, 633, rowLabelY[i], 13.5, 'left'));
const sLabelY = [85, 215.5, 346, 479.5, 609.5, 744];
const sLabelR = [5, 15, 11, 5, 11, 15];
sLabelY.forEach((y, i) => text('s', sLabelR[i], y, 14, 'right'));
xLabels.forEach((t, i) => text(t, titleX[i], 824, 14, 'center'));

// ---- legends ----
const legX = [[55, 124], [205, 278], [360, 428]];
const legY = [844, 857.5, 871];
const svg = document.getElementById('leg');
const NS = 'http://www.w3.org/2000/svg';
function el(name, attrs) {
  const e = document.createElementNS(NS, name);
  Object.entries(attrs).forEach(([k, v]) => e.setAttribute(k, v));
  svg.appendChild(e);
}
legX.forEach((cols, j) => {
  const names = j === 0 ? scStrains : ypdStrains;
  names.forEach((n, i) => {
    const mx = cols[Math.floor(i / 3)], my = legY[i % 3];
    const col = palette[i];
    el('line', { x1: mx - 6, y1: my, x2: mx + 6, y2: my, stroke: rgba(col, 0.5), 'stroke-width': 1.6 });
    el('line', { x1: mx, y1: my - 5, x2: mx, y2: my + 5, stroke: rgba(col, 0.5), 'stroke-width': 1.6 });
    el('circle', { cx: mx, cy: my, r: 3, fill: col });
    text(n, mx + 17, my, 9.2, 'left');
  });
});
</script>
</body>
</html>
